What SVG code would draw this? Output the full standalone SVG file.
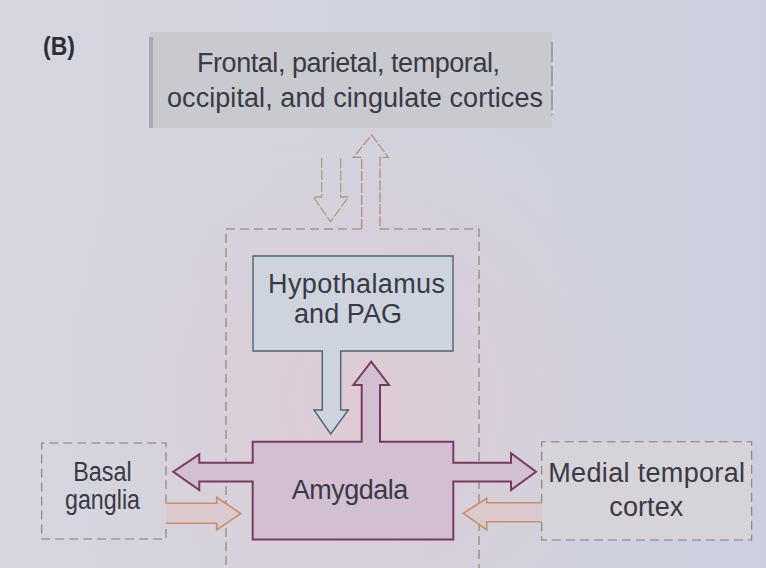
<svg xmlns="http://www.w3.org/2000/svg" width="766" height="568" viewBox="0 0 766 568">
<defs>
<radialGradient id="glow" cx="360" cy="400" r="330" gradientUnits="userSpaceOnUse">
<stop offset="0" stop-color="#e2c9d3" stop-opacity="0.85"/>
<stop offset="0.6" stop-color="#dccdd6" stop-opacity="0.4"/>
<stop offset="1" stop-color="#d4d5df" stop-opacity="0"/>
</radialGradient>
<linearGradient id="side" x1="0" y1="0" x2="1" y2="0">
<stop offset="0" stop-color="#d6d6df"/>
<stop offset="1" stop-color="#ccd0de"/>
</linearGradient>
</defs>
<style>
text{font-family:"Liberation Sans",Arial,sans-serif;fill:#3a3944;font-size:27px}
.lbl{font-weight:bold;font-size:25px;fill:#2e2d38}
.dash{fill:none;stroke:#8a7a74;stroke-width:1.1;stroke-dasharray:9 5}
.amy{fill:#d3bfd4;stroke:#7a3a5c;stroke-width:2;stroke-linejoin:miter}
.hyp{fill:#cdd4de;stroke:#4b6470;stroke-width:1.4}
.orange{fill:#dcc8cf;stroke:#c88f62;stroke-width:1.6}
.olive{fill:none;stroke:#a3a386;stroke-width:1.3;stroke-dasharray:10 2}
.pink{fill:none;stroke:#b68c7c;stroke-width:1.3;stroke-dasharray:10 2}
</style>
<rect width="766" height="568" fill="url(#side)"/>
<rect width="766" height="568" fill="url(#glow)"/>

<text class="lbl" x="43" y="55" textLength="32" lengthAdjust="spacingAndGlyphs">(B)</text>

<g id="cortices">
<rect x="150" y="32" width="402" height="96" fill="#c9c9d0"/>
<line x1="151" y1="37" x2="151" y2="128" stroke="#aaaab2" stroke-width="4"/>
<line x1="552" y1="42" x2="552" y2="115" stroke="#6e6e76" stroke-width="1" stroke-dasharray="20 4"/>
<text x="197" y="71.5" textLength="303">Frontal, parietal, temporal,</text>
<text x="167" y="106.5" textLength="376">occipital, and cingulate cortices</text>
</g>

<g id="region">
<path class="dash" d="M226,579 V229 H361.7 M380,229 H479 V579"/>
</g>

<g id="hypothalamus">
<path class="hyp" d="M253,256 H453 V351 H340.7 V410 H348.3 L330.7,434 L314,410 H322.3 V351 H253 Z"/>
<text x="268" y="293.3" font-size="26" textLength="177">Hypothalamus</text>
<text x="294" y="323" font-size="26" textLength="108">and PAG</text>
</g>

<g id="amygdala">
<path class="amy" d="M252.7,441.7 H361.7 V385 H353.3 L371.2,361.7 L389,385 H380 V441.7 H453.3 V462.7 H511 V453.3 L536,471.7 L511,490 V481.5 H453.3 V539.5 H252.7 V481.5 H199.3 V490 L173.3,471.7 L199.3,454.3 V462.7 H252.7 Z"/>
<text x="291.7" y="499.3" textLength="116.7">Amygdala</text>
</g>

<g id="basal-ganglia">
<path class="dash" d="M166,503.3 V443 H41.7 V539 H166 V523.3"/>
<text x="73.3" y="480.5" textLength="58.4" lengthAdjust="spacingAndGlyphs">Basal</text>
<text x="65" y="509" textLength="75" lengthAdjust="spacingAndGlyphs">ganglia</text>
</g>

<g id="medial-temporal">
<path d="M541.7,502.7 V441.7 H751.7 V540 H541.7 V521.7" fill="#d6d3d9" stroke="#8a7a74" stroke-width="1.1" stroke-dasharray="9 5"/>
<text x="548.3" y="481.7" textLength="196.7">Medial temporal</text>
<text x="609.3" y="516" textLength="74">cortex</text>
</g>

<g id="connectors">
<path class="olive" d="M321.7,158 V197 H313.3 L330.5,221.7 L348.3,197 H340.7 V158"/>
<path class="pink" d="M361.7,229 V157.3 H353.3 L371.7,135 L388.3,157.3 H380 V229"/>
<path class="orange" d="M166,503.3 H216.7 V497.3 L240.7,513.6 L216.7,530 V523.3 H166"/>
<path class="orange" d="M541.7,502.7 H486.7 V498.3 L463.3,513.3 L486.7,530 V521.7 H541.7"/>
</g>
</svg>
